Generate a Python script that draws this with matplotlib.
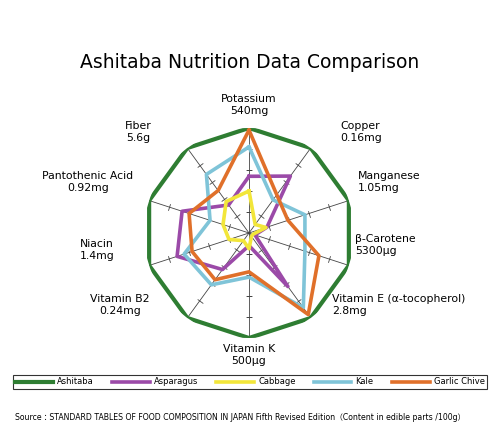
import numpy as np
import matplotlib.pyplot as plt

plt.rcParams["font.family"] = ["DejaVu Sans", "Noto Sans CJK JP"]

nutrients = ["Potassium\n540mg", "Copper\n0.16mg", "Manganese\n1.05mg", "β-Carotene\n5300μg",
             "Vitamin E (α-tocopherol)\n2.8mg", "Vitamin K\n500μg", "Vitamin B2\n0.24mg", "Niacin\n1.4mg",
             "Pantothenic Acid\n0.92mg", "Fiber\n5.6g"]
ashitaba = [1, 1, 1, 1, 1, 1, 1, 1, 1, 1]
asparagus = [0.54, 0.67, 0.18, 0.06, 0.63, 0.12, 0.43, 0.72, 0.67, 0.33]
cabbage = [0.40, 0.10, 0.17, 0.04, 0.04, 0.15, 0.09, 0.20, 0.26, 0.37]
kale = [0.82, 0.39, 0.56, 0.56, 0.88, 0.42, 0.61, 0.65, 0.39, 0.69]
garlic_chive = [0.98, 0.45, 0.39, 0.70, 0.96, 0.37, 0.55, 0.57, 0.60, 0.50]

series = [("Ashitaba", ashitaba, "#2e7d32"), ("Asparagus", asparagus, "#9b4aa8"),
          ("Cabbage", cabbage, "#f2e63a"), ("Kale", kale, "#7fc4d8"),
          ("Garlic Chive", garlic_chive, "#e0702a")]

n = len(nutrients)
theta = np.arange(n) * 2 * np.pi / n

fig = plt.figure(figsize=(5, 4.47), dpi=100)
r = 105
ax = fig.add_axes([(249 - r) / 500, 1 - (233 + r) / 447, 2 * r / 500, 2 * r / 447], projection="polar")
ax.set_theta_zero_location("N")
ax.set_theta_direction(-1)
ax.set_ylim(0, 1.0)
ax.axis("off")

# spokes with small tick marks
for i, t in enumerate(theta):
    ax.plot([t, t], [0, 1], color="#444", lw=0.6, zorder=1)
    rot = -np.degrees(t)
    ax.plot([t] * 4, [0.2, 0.4, 0.6, 0.8], ls="none", marker=(2, 0, rot + 90),
            ms=5, color="#444", mew=0.6, zorder=1)

handles = {}
for name, vals, col in series:
    v = list(vals) + [vals[0]]
    t = list(theta) + [theta[0]]
    lw = 3 if name == "Ashitaba" else 2.6
    handles[name], = ax.plot(t, v, color=col, lw=lw, label=name,
                             zorder=5 if name == "Garlic Chive" else 3)

label_pos = [(249, 105, "center"), (340, 132, "left"), (358, 182, "left"), (355, 245, "left"),
             (332, 305, "left"), (249, 355, "center"), (120, 305, "center"), (97, 250, "center"),
             (88, 182, "center"), (138, 132, "center")]
for lab, (x, y, ha) in zip(nutrients, label_pos):
    fig.text(x / 500, 1 - y / 447, lab, ha=ha, va="center", fontsize=7.8, linespacing=1.3)

fig.text(0.5, 1 - 62 / 447, "Ashitaba Nutrition Data Comparison", ha="center", va="center", fontsize=13.5)

leg = fig.legend([handles[s[0]] for s in series], [s[0] for s in series], loc="center",
                 bbox_to_anchor=(0.5, 1 - 382 / 447), ncol=5, fontsize=6, frameon=True,
                 fancybox=False, edgecolor="black", handlelength=4.5, columnspacing=2.2,
                 handletextpad=0.5, borderpad=0.3)
leg.get_frame().set_linewidth(0.8)

fig.text(0.03, 1 - 418 / 447,
         "Source：STANDARD TABLES OF FOOD COMPOSITION IN JAPAN Fifth Revised Edition（Content in edible parts /100g）",
         ha="left", va="center", fontsize=5.6)

fig.savefig("out.png", dpi=100, facecolor="white")
